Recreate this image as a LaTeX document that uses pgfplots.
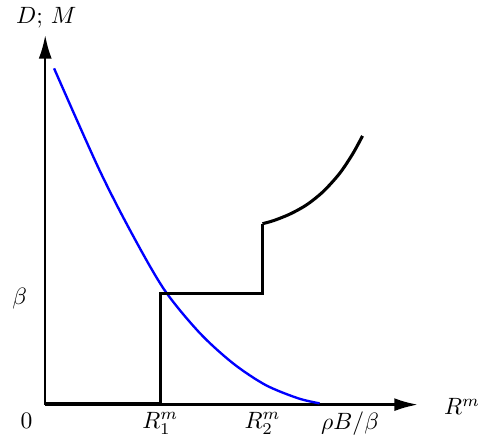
\documentclass[border=0pt]{standalone}
\usepackage{pgfplots}
\pgfplotsset{compat=1.18}
\usetikzlibrary{arrows.meta}
\begin{document}
\begin{tikzpicture}
\begin{axis}[
  x=0.4167pt, y=0.4167pt,
  xmin=0, xmax=379, ymin=0, ymax=376,
  axis lines=left,
  axis line style={line width=1pt, -{Latex[length=10pt,width=5.5pt]}},
  xtick=\empty, ytick=\empty,
  clip=false,
]
\path (axis cs:-46,-37) rectangle (axis cs:442,408);
\addplot[blue, line width=1pt, smooth, tension=0.5] coordinates {
(9,342) (54,241) (87,176) (121,117) (157,73) (191,42) (224,20) (257,6.5) (279,1.3)};
\addplot[black, line width=1.3pt, sharp plot] coordinates {
(0,1) (117,1) (117,113) (221,113) (221,184)};
\addplot[black, line width=1.3pt, smooth, tension=0.5] coordinates {
(221,184) (232.7,187.3) (249.3,194) (266,203.3) (282.7,216.7) (299.3,235) (312.7,255) (322.7,273.3)};
\node at (axis cs:1,393) {$D$; $M$};
\node at (axis cs:424,-2) {$R^m$};
\node at (axis cs:-19,-17) {$0$};
\node at (axis cs:-26,108) {$\beta$};
\node[inner sep=1pt] at (axis cs:117,-19) {$R_1^m$};
\node[inner sep=1pt] at (axis cs:221,-19) {$R_2^m$};
\node[inner sep=1pt] at (axis cs:310,-19) {$\rho B/\beta$};
\end{axis}
\end{tikzpicture}
\end{document}
